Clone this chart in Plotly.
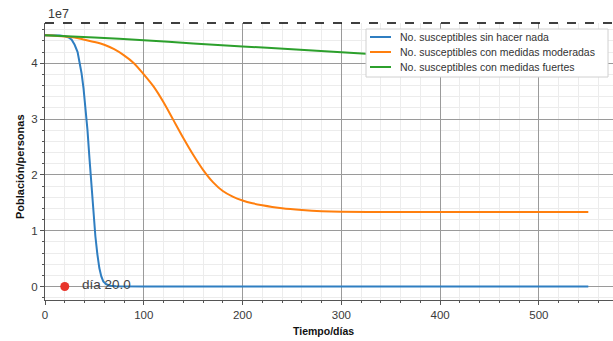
import plotly.graph_objects as go

# ---------------- data ----------------
series_names = [
    "No. susceptibles sin hacer nada",
    "No. susceptibles con medidas moderadas",
    "No. susceptibles con medidas fuertes",
]

days_none = [0, 10, 15, 20, 24, 27, 30, 33, 35, 37, 39, 41, 43, 45, 47, 49, 51, 53,
             55, 57, 59, 62, 66, 72, 85, 100, 200, 300, 400, 500, 550]
s_none = [4.50e7, 4.50e7, 4.495e7, 4.485e7, 4.46e7, 4.42e7, 4.33e7, 4.20e7, 4.02e7,
          3.82e7, 3.55e7, 3.22e7, 2.80e7, 2.30e7, 1.78e7, 1.30e7, 0.90e7, 0.58e7,
          0.33e7, 0.18e7, 0.09e7, 0.04e7, 0.015e7, 0.004e7, 0.0, 0.0, 0.0, 0.0,
          0.0, 0.0, 0.0]

days_mod = [0, 20, 30, 40, 50, 60, 70, 80, 90, 100, 110, 120, 130, 140, 150, 160,
            170, 180, 190, 200, 210, 220, 230, 240, 260, 280, 300, 350, 400, 450,
            500, 550]
s_mod = [4.50e7, 4.48e7, 4.46e7, 4.42e7, 4.38e7, 4.33e7, 4.25e7, 4.14e7, 4.00e7,
         3.80e7, 3.58e7, 3.30e7, 2.98e7, 2.66e7, 2.36e7, 2.09e7, 1.87e7, 1.71e7,
         1.61e7, 1.54e7, 1.49e7, 1.455e7, 1.425e7, 1.40e7, 1.37e7, 1.35e7, 1.34e7,
         1.335e7, 1.335e7, 1.335e7, 1.335e7, 1.335e7]

days_strong = [0, 50, 100, 150, 200, 250, 300, 350, 400, 450, 500, 550]
s_strong = [4.50e7, 4.46e7, 4.41e7, 4.355e7, 4.30e7, 4.25e7, 4.195e7, 4.14e7,
            4.09e7, 4.04e7, 3.99e7, 3.94e7]

marker_day = [20]
marker_value = [0]
marker_label = "día 20.0"

x_ticks = [0, 100, 200, 300, 400, 500]
y_ticks = [0, 1e7, 2e7, 3e7, 4e7]
y_tick_text = ["0", "1", "2", "3", "4"]

colors = ["#2f7ec1", "#ff7f0e", "#2ca02c"]
shapes_kind = ["linear", "spline", "spline"]

# ---------------- figure ----------------
W, H = 613, 341
L, R, T, B = 45, 0, 23, 41
PW, PH = W - L - R, H - T - B


def px(xp):
    return (xp - L) / PW


def py(yp):
    return (H - B - yp) / PH


fig = go.Figure()
for d, s, c, n, k in zip([days_none, days_mod, days_strong],
                         [s_none, s_mod, s_strong], colors, series_names, shapes_kind):
    fig.add_trace(go.Scatter(x=d, y=s, mode="lines", name=n,
                             line=dict(color=c, width=2, shape=k, smoothing=0.8),
                             showlegend=False))

fig.add_trace(go.Scatter(x=marker_day, y=marker_value, mode="markers",
                         marker=dict(color="#e8352b", size=9), showlegend=False))

font_family = "Liberation Sans, Arial, sans-serif"
tick_color = "#3a3a3a"

fig.update_layout(
    width=W, height=H,
    margin=dict(l=L, r=R, t=T, b=B),
    paper_bgcolor="white", plot_bgcolor="white",
    font=dict(family=font_family, size=11, color=tick_color),
    xaxis=dict(
        range=[0, 575], tickvals=x_ticks, ticks="outside", ticklen=4,
        tickcolor="#555", showline=True, linecolor="#555", linewidth=1,
        showgrid=True, gridcolor="#9a9a9a", gridwidth=1.3, zeroline=False,
        tickfont=dict(size=11.5, color=tick_color),
        minor=dict(dtick=20, tick0=0, ticks="outside", ticklen=2, tickcolor="#555",
                   showgrid=True, gridcolor="#ececec", gridwidth=1),
    ),
    yaxis=dict(
        range=[-0.242e7, 4.72e7], tickvals=y_ticks, ticktext=y_tick_text,
        ticks="outside", ticklen=4, tickcolor="#555", showline=True,
        linecolor="#555", linewidth=1, showgrid=True, gridcolor="#9a9a9a",
        gridwidth=1.3, zeroline=False, tickfont=dict(size=11.5, color=tick_color),
        minor=dict(dtick=0.2e7, tick0=0, ticks="outside", ticklen=2, tickcolor="#555",
                   showgrid=True, gridcolor="#ececec", gridwidth=1),
    ),
)

# top dashed border
fig.add_shape(type="line", xref="paper", yref="paper", x0=0, x1=1, y0=1, y1=1,
              line=dict(color="black", width=1.5, dash="dash"))

# annotations: exponent, axis titles, marker label
fig.add_annotation(text="1e7", xref="paper", yref="paper", x=px(46), y=py(14),
                   xanchor="left", yanchor="middle", showarrow=False,
                   font=dict(size=12.5, color=tick_color))
fig.add_annotation(text="<b>Tiempo/días</b>", xref="paper", yref="paper",
                   x=px(323), y=py(331), xanchor="center", yanchor="middle",
                   showarrow=False, font=dict(size=10.5, color="#111"))
fig.add_annotation(text="<b>Población/personas</b>", xref="paper", yref="paper",
                   x=px(20), y=py(167), xanchor="center", yanchor="middle",
                   textangle=-90, showarrow=False, font=dict(size=11, color="#111"))
fig.add_annotation(text=marker_label, x=35, y=marker_value[0], xanchor="left",
                   yanchor="middle", yshift=2, showarrow=False,
                   font=dict(size=13.5, color="#444"))

# legend box drawn to match the reference's compact layout
lx0, lx1, ly0, ly1 = 366, 608, 29, 77
fig.add_shape(type="rect", xref="paper", yref="paper", x0=px(lx0), x1=px(lx1),
              y0=py(ly1), y1=py(ly0), line=dict(color="#d0d0d0", width=1),
              fillcolor="white", layer="above")
rows = [37, 52, 67]
for n, c, ry in zip(series_names, colors, rows):
    fig.add_shape(type="line", xref="paper", yref="paper", x0=px(370), x1=px(391),
                  y0=py(ry), y1=py(ry), line=dict(color=c, width=2), layer="above")
    fig.add_annotation(text=n, xref="paper", yref="paper", x=px(398), y=py(ry),
                       xanchor="left", yanchor="middle", showarrow=False,
                       font=dict(size=10.5, color="#333"))

fig.write_html("out.html")
